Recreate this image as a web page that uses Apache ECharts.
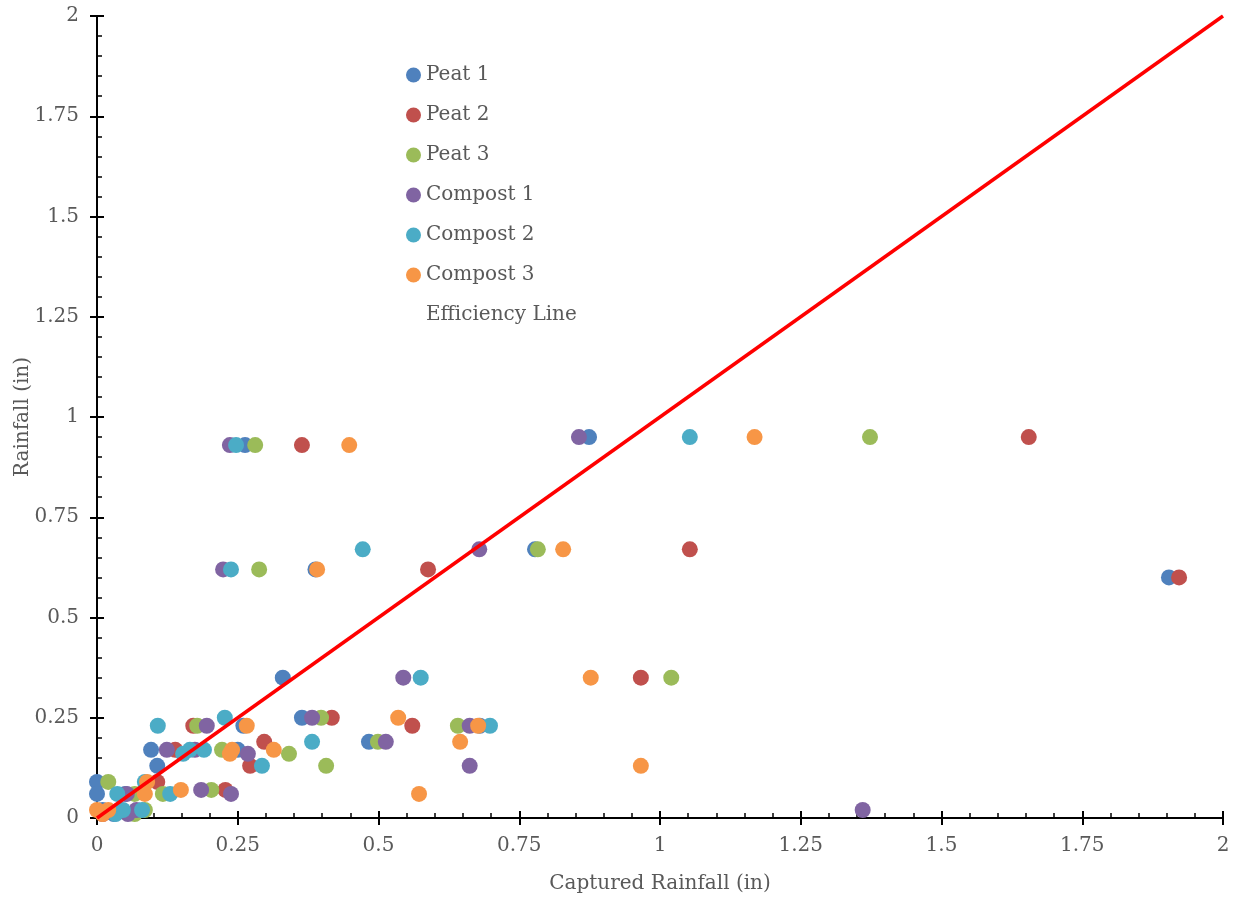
<!DOCTYPE html>
<html>
<head>
<meta charset="utf-8">
<script src="https://cdn.jsdelivr.net/npm/echarts@6/dist/echarts.min.js"></script>
<style>html,body{margin:0;padding:0;background:#fff}#c{width:1239px;height:898px}</style>
</head>
<body>
<div id="c"></div>
<script>
// [captured rainfall (in), rainfall (in)]
const peat1 = [[0.874,0.95],[0.263,0.93],[0.778,0.67],[0.388,0.62],[1.904,0.60],[0.330,0.35],[0.364,0.25],[0.680,0.23],[0.260,0.23],[0.483,0.19],[0.096,0.17],[0.250,0.17],[0.107,0.13],[0.000,0.09],[0.000,0.06],[0.050,0.06],[0.030,0.01],[0.010,0.02]];
const peat2 = [[1.655,0.95],[0.364,0.93],[1.053,0.67],[0.588,0.62],[1.922,0.60],[0.966,0.35],[0.417,0.25],[0.560,0.23],[0.171,0.23],[0.297,0.19],[0.139,0.17],[0.272,0.13],[0.107,0.09],[0.228,0.07],[0.040,0.02],[0.010,0.01]];
const peat3 = [[1.373,0.95],[0.281,0.93],[0.783,0.67],[0.288,0.62],[1.020,0.35],[0.398,0.25],[0.641,0.23],[0.178,0.23],[0.499,0.19],[0.222,0.17],[0.341,0.16],[0.407,0.13],[0.020,0.09],[0.117,0.06],[0.067,0.06],[0.203,0.07],[0.067,0.01],[0.085,0.02]];
const compost1 = [[0.856,0.95],[0.236,0.93],[0.679,0.67],[0.224,0.62],[0.544,0.35],[0.382,0.25],[0.662,0.23],[0.195,0.23],[0.513,0.19],[0.124,0.17],[0.174,0.17],[0.268,0.16],[0.662,0.13],[1.360,0.02],[0.185,0.07],[0.238,0.06],[0.053,0.06],[0.070,0.02],[0.055,0.01]];
const compost2 = [[1.053,0.95],[0.247,0.93],[0.472,0.67],[0.238,0.62],[0.575,0.35],[0.227,0.25],[0.698,0.23],[0.108,0.23],[0.382,0.19],[0.153,0.16],[0.165,0.17],[0.190,0.17],[0.293,0.13],[0.085,0.09],[0.036,0.06],[0.130,0.06],[0.080,0.02],[0.033,0.01],[0.046,0.02]];
const compost3 = [[1.168,0.95],[0.448,0.93],[0.828,0.67],[0.391,0.62],[0.877,0.35],[0.535,0.25],[0.677,0.23],[0.266,0.23],[0.645,0.19],[0.240,0.17],[0.314,0.17],[0.236,0.16],[0.966,0.13],[0.572,0.06],[0.149,0.07],[0.089,0.09],[0.085,0.06],[0.000,0.02],[0.010,0.01],[0.020,0.02]];
const efficiencyLine = [[0,0],[2,2]];
const seriesNames = ['Peat 1','Peat 2','Peat 3','Compost 1','Compost 2','Compost 3','Efficiency Line'];
const colors = ['#4F81BD','#C0504D','#9BBB59','#8064A2','#4BACC6','#F79646','#FF0000'];
const axisTicks = [0,0.25,0.5,0.75,1,1.25,1.5,1.75,2];

const FONT = 'DejaVu Serif';
const TXT = '#595959';
const scatterData = [peat1,peat2,peat3,compost1,compost2,compost3];

function baseAxis(extra){
  return Object.assign({
    type:'value', min:0, max:2, interval:0.25,
    splitLine:{show:false},
    axisLine:{show:true,onZero:false,lineStyle:{color:'#000',width:2}},
  }, extra);
}

const chart = echarts.init(document.getElementById('c'));
chart.setOption({
  animation:false,
  backgroundColor:'#fff',
  color:colors,
  grid:{left:97,right:16,top:16,bottom:80,containLabel:false,outerBoundsMode:'none'},
  legend:{
    orient:'vertical', left:406, top:65, itemGap:20, itemWidth:15, itemHeight:15, padding:0,
    textStyle:{fontFamily:FONT,fontSize:20,color:TXT,padding:[0,0,0,0]},
    data:seriesNames.map((n,i)=> i<6 ? {name:n,icon:'circle'} : {name:n,icon:'circle',itemStyle:{opacity:0}})
  },
  xAxis:[
    baseAxis({
      position:'bottom',
      name:'Captured Rainfall (in)', nameLocation:'middle', nameGap:56,
      nameTextStyle:{fontFamily:FONT,fontSize:20,color:TXT},
      axisLabel:{fontFamily:FONT,fontSize:20,color:TXT,margin:18,
        formatter:v=>axisTicks.includes(v)?String(v):''},
      axisTick:{show:true,inside:true,length:7,lineStyle:{color:'#000',width:2}},
      minorTick:{show:true,splitNumber:5,length:5,lineStyle:{color:'#000',width:1.5}},
    }),
    baseAxis({
      position:'bottom', offset:0,
      axisLabel:{show:false},
      axisTick:{show:true,inside:false,length:7,lineStyle:{color:'#000',width:2}},
    })
  ],
  yAxis:[
    baseAxis({
      position:'left',
      name:'Rainfall (in)', nameLocation:'middle', nameGap:64, nameRotate:90, nameMoveOverlap:false,
      nameTextStyle:{fontFamily:FONT,fontSize:20,color:TXT},
      axisLabel:{fontFamily:FONT,fontSize:20,color:TXT,margin:18,
        formatter:v=>axisTicks.includes(v)?String(v):''},
      axisTick:{show:true,inside:true,length:7,lineStyle:{color:'#000',width:2}},
      minorTick:{show:true,splitNumber:5,length:5,lineStyle:{color:'#000',width:1.5}},
    }),
    baseAxis({
      position:'left', offset:0,
      axisLabel:{show:false},
      axisTick:{show:true,inside:false,length:7,lineStyle:{color:'#000',width:2}},
    })
  ],
  series: scatterData.map((d,i)=>({
    name:seriesNames[i], type:'scatter', data:d, symbol:'circle', symbolSize:16,
    itemStyle:{color:colors[i],opacity:1}, z:2
  })).concat([{
    name:'Efficiency Line', type:'line', data:efficiencyLine, showSymbol:false, symbol:'none',
    lineStyle:{color:'#FF0000',width:3.5}, itemStyle:{color:'#FF0000'}, z:5
  }])
});
</script>
</body>
</html>
